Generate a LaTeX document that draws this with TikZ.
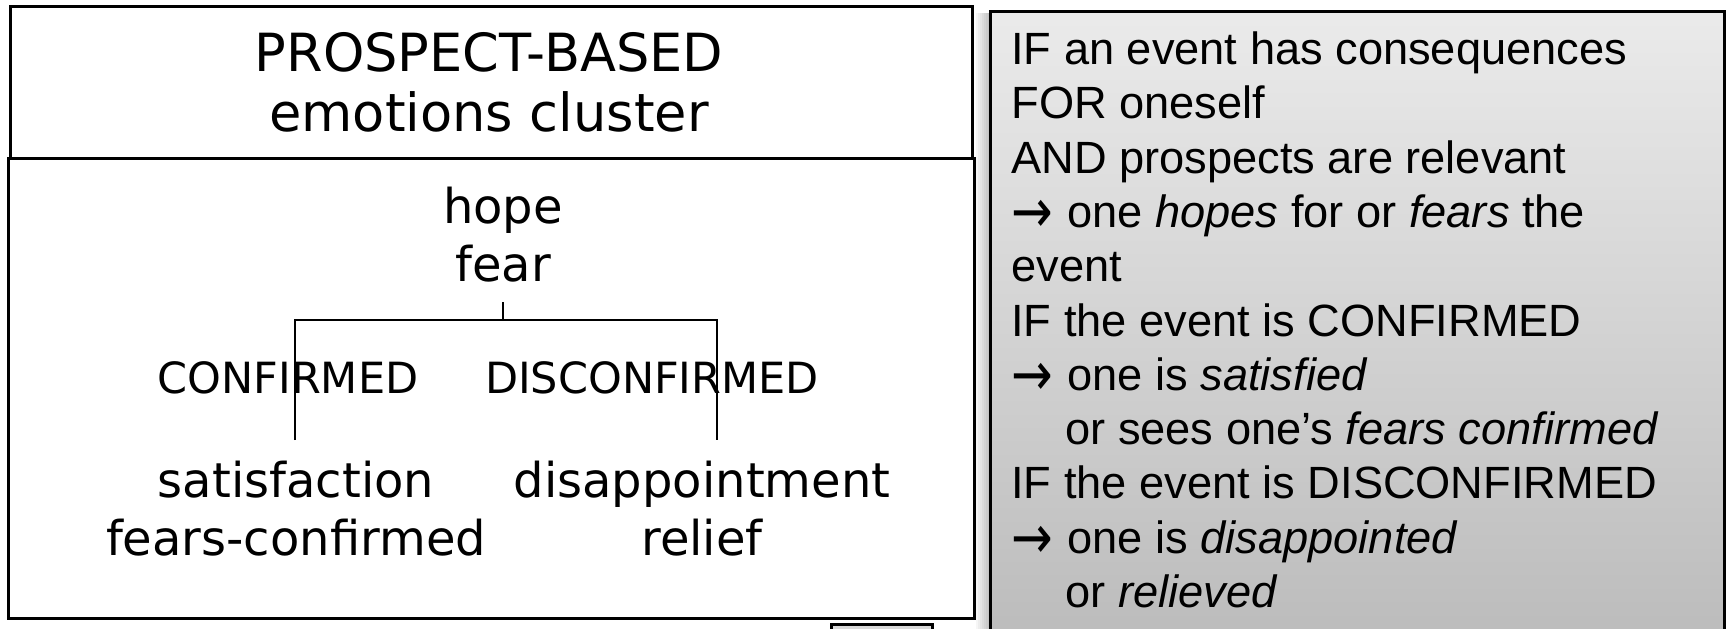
\documentclass[tikz,border=0pt]{standalone}
\usepackage{fontspec}
\setmainfont{DejaVu Sans}
\newfontfamily\rulefont{Liberation Sans}
\newfontfamily\arrowfont{DejaVu Sans}
% arrow that opens a consequence line
\newcommand{\thenarrow}{\makebox[28pt][l]{\raisebox{-2.4pt}{\scalebox{1.1}[1.35]{\arrowfont →}}}}
\begin{document}
\begin{tikzpicture}[x=0.5pt,y=-0.5pt,
  frame/.style={draw=black,line width=1.5pt},
  branch/.style={draw=black,line width=0.6pt},
  titletext/.style={anchor=base,align=center,inner sep=0pt,
    font=\fontsize{26.3pt}{30.25pt}\selectfont},
  emotext/.style={anchor=base,align=center,inner sep=0pt,
    font=\fontsize{24pt}{29pt}\selectfont},
  condtext/.style={anchor=base,inner sep=0pt,
    font=\fontsize{21.5pt}{25pt}\selectfont},
  ruletext/.style={anchor=base west,align=left,inner sep=0pt,
    font=\rulefont\fontsize{22.6pt}{27.15pt}\selectfont}]
\clip (0,0) rectangle (1726,628);
\fill[white] (0,0) rectangle (1726,628);

% title box and tree box
\draw[frame] (8,158) rectangle (974,618);
\draw[frame] (10,6) rectangle (972,158);

% multi-line nodes are placed by the baseline of their last line
\node[titletext] (title) at (489,131.5) {PROSPECT-BASED\\emotions cluster};

% tree of emotions
\node[emotext] (hopefear) at (503,281) {hope\\fear};
\node[condtext] (conf) at (288,393) {CONFIRMED};
\node[condtext] (disconf) at (652,393) {DISCONFIRMED};
\node[emotext] (sat) at (296,555) {satisfaction\\fears-confirmed};
\node[emotext] (dis) at (702,555) {disappointment\\relief};

\coordinate (stem) at (503,302);
\coordinate (fork) at (503,320);
\coordinate (legl) at (295,440);
\coordinate (legr) at (717,440);
\draw[branch] (stem) -- (fork);
\draw[branch] (legl) |- (fork) -| (legr);

% small tab below the tree box
\draw[frame,fill=black!15] (831,624) rectangle (932,660);

% soft shadow beside the rule panel
\foreach \i in {1,...,7}
  \fill[black,opacity=0.035] (990-2*\i,13) rectangle (990,660);

% rule panel
\shade[top color=black!8,bottom color=black!27] (990,11) rectangle (1724,660);
\draw[frame] (990,660) -- (990,11) -- (1724,11) -- (1724,660);

\node[ruletext] (rules) at (1011,607.5) {%
IF an event has consequences\\
FOR oneself\\
AND prospects are relevant\\
\thenarrow one \textit{hopes} for or \textit{fears} the\\
event\\
IF the event is CONFIRMED\\
\thenarrow one is \textit{satisfied}\\
\hspace*{27pt}or sees one’s \textit{fears confirmed}\\
IF the event is DISCONFIRMED\\
\thenarrow one is \textit{disappointed}\\
\hspace*{27pt}or \textit{relieved}};
\end{tikzpicture}
\end{document}
